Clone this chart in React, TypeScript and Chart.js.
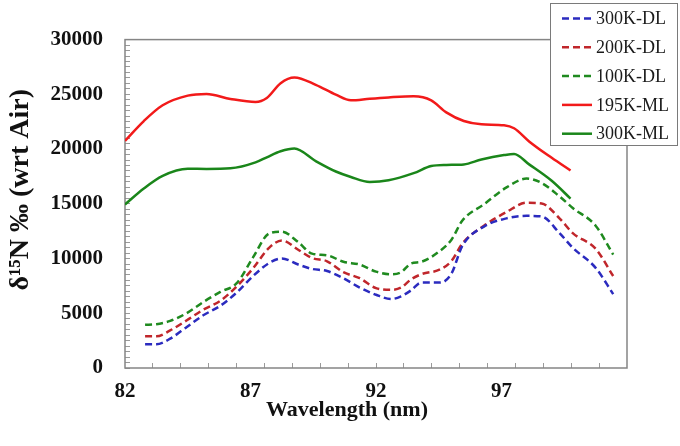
import React, { useEffect, useRef } from "react";
import { Chart, registerables } from "chart.js";

Chart.register(...registerables);

// ---- axis definitions ----
const X_MIN = 82;
const X_MAX = 102;
const X_TICKS = [82, 87, 92, 97];
const X_MINOR_INTERVALS = 18;
const Y_MIN = 0;
const Y_MAX = 30000;
const Y_LABEL_STEP = 5000;
const Y_MINOR_STEP = 500;

// ---- dashed (DL) series ----
const WAVELENGTH_DL = [
  82.8, 83.25, 83.8, 84.45, 85.1, 85.8, 86.45, 87.1, 87.75, 88.25, 88.9, 89.45,
  90.05, 90.7, 91.35, 92.0, 92.6, 93.0, 93.4, 93.8, 94.55, 95.0, 95.45, 96.3,
  97.2, 98.0, 98.6, 99.3, 99.85, 100.75, 101.45,
];
const DL_300K = [
  2170, 2170, 2680, 3730, 4790, 5690, 6890, 8400, 9600, 10000, 9450, 9050,
  8860, 8200, 7350, 6690, 6300, 6550, 7100, 7800, 7800, 8600, 11200, 12920,
  13670, 13900, 13850, 12350, 10960, 9150, 6750,
];
const DL_200K = [
  2890, 2890, 3430, 4340, 5300, 6140, 7450, 9100, 11000, 11650, 10800, 10050,
  9750, 8750, 8200, 7300, 7140, 7350, 8100, 8560, 9000, 9760, 11400, 13000,
  14250, 15100, 15030, 13700, 12300, 10900, 8400,
];
const DL_100K = [
  3950, 4000, 4300, 5000, 6000, 6950, 7750, 10100, 12300, 12450, 11500, 10450,
  10300, 9700, 9450, 8800, 8560, 8750, 9550, 9700, 10700, 11700, 13500, 14950,
  16500, 17300, 16900, 15700, 14600, 13000, 10360,
];

// ---- solid (ML) series ----
const WAVELENGTH_ML = [
  82, 82.75, 83.5, 84.5, 85.25, 86.2, 87.2, 87.65, 88.2, 88.75, 89.6, 90.4,
  91.0, 91.75, 92.5, 93.5, 94.2, 94.8, 95.5, 96.2, 97.1, 97.5, 98.1, 99.0, 99.75,
];
const ML_195K = [
  20750, 22560, 24000, 24880, 25030, 24580, 24300, 24670, 26020, 26540, 25870,
  24970, 24450, 24600, 24720, 24820, 24450, 23350, 22560, 22260, 22170, 21900,
  20700, 19200, 18040,
];
const ML_300K = [
  14940, 16400, 17550, 18200, 18190, 18240, 18780, 19250, 19800, 20050, 18900,
  17950, 17450, 17000, 17150, 17800, 18450, 18550, 18600, 19050, 19450, 19550,
  18600, 17100, 15480,
];

const SERIES_LABELS = ["300K-DL", "200K-DL", "100K-DL", "195K-ML", "300K-ML"];
const X_TITLE = "Wavelength (nm)";
const Y_TITLE = "\u2002\u2002δ¹⁵N ‰ (wrt Air)";

const SERIF = "'Liberation Serif', 'Times New Roman', serif";

const pts = (xs: number[], ys: number[]) => xs.map((x, i) => ({ x, y: ys[i] }));

const framePlugin = {
  id: "plotFrame",
  beforeDatasetsDraw(chart: any) {
    const { ctx, chartArea } = chart;
    const { left, top, right, bottom } = chartArea;
    ctx.save();
    ctx.strokeStyle = "#858585";
    ctx.lineWidth = 1.5;
    ctx.strokeRect(left, top, right - left, bottom - top);
    ctx.restore();
  },
};

const boxLegendPlugin = {
  id: "boxLegend",
  afterDraw(chart: any) {
    const ctx = chart.ctx;
    ctx.save();
    const bx = 550.5;
    const by = 3.5;
    const bw = 127;
    const bh = 142;
    ctx.fillStyle = "#ffffff";
    ctx.fillRect(bx, by, bw, bh);
    ctx.strokeStyle = "#7a7a7a";
    ctx.lineWidth = 1;
    ctx.strokeRect(bx, by, bw, bh);
    chart.data.datasets.forEach((ds: any, i: number) => {
      const y = 18.5 + i * 28.8;
      ctx.strokeStyle = ds.borderColor;
      ctx.lineWidth = ds.borderWidth;
      ctx.setLineDash(ds.borderDash || []);
      ctx.beginPath();
      ctx.moveTo(562, y);
      ctx.lineTo(592, y);
      ctx.stroke();
      ctx.setLineDash([]);
      ctx.fillStyle = "#1a1a1a";
      ctx.font = `18px ${SERIF}`;
      ctx.textBaseline = "middle";
      ctx.textAlign = "left";
      ctx.fillText(ds.label, 596, y + 1);
    });
    ctx.restore();
  },
};

export default function App() {
  const canvasRef = useRef<HTMLCanvasElement | null>(null);

  useEffect(() => {
    if (!canvasRef.current) return;
    const common = {
      fill: false,
      pointRadius: 0,
      pointHoverRadius: 0,
      borderWidth: 2.5,
      cubicInterpolationMode: "monotone" as const,
    };
    const chart = new Chart(canvasRef.current, {
      type: "line",
      data: {
        datasets: [
          { ...common, label: SERIES_LABELS[0], data: pts(WAVELENGTH_DL, DL_300K), borderColor: "#2b2bbf", borderDash: [7, 4] },
          { ...common, label: SERIES_LABELS[1], data: pts(WAVELENGTH_DL, DL_200K), borderColor: "#c0262b", borderDash: [7, 4] },
          { ...common, label: SERIES_LABELS[2], data: pts(WAVELENGTH_DL, DL_100K), borderColor: "#1f8a1f", borderDash: [7, 4] },
          { ...common, label: SERIES_LABELS[3], data: pts(WAVELENGTH_ML, ML_195K), borderColor: "#f21a1a" },
          { ...common, label: SERIES_LABELS[4], data: pts(WAVELENGTH_ML, ML_300K), borderColor: "#1a861a" },
        ],
      },
      options: {
        animation: false,
        responsive: true,
        maintainAspectRatio: false,
        layout: { padding: { top: 36, left: 14, right: 0, bottom: 25 } },
        plugins: {
          legend: { display: false },
          tooltip: { enabled: false },
          title: {
            display: true,
            position: "bottom",
            text: X_TITLE,
            color: "#111111",
            font: { family: SERIF, size: 22, weight: "bold", lineHeight: 1 },
            padding: { top: -3, bottom: 0 },
            fullSize: true,
          },
        },
        scales: {
          x: {
            type: "linear",
            position: "bottom",
            min: X_MIN,
            max: X_MAX,
            weight: 1,
            afterBuildTicks: (s: any) => {
              s.ticks = X_TICKS.map((v) => ({ value: v }));
            },
            afterFit: (s: any) => {
              s.height = 34;
            },
            grid: { display: false },
            border: { display: false },
            ticks: {
              padding: 3,
              color: "#111111",
              autoSkip: false,
              maxRotation: 0,
              font: { family: SERIF, size: 21, weight: "bold" },
              callback: (v: any) => String(v),
            },
          },
          xMinor: {
            type: "linear",
            position: "bottom",
            min: X_MIN,
            max: X_MAX,
            weight: 0,
            afterBuildTicks: (s: any) => {
              const step = (X_MAX - X_MIN) / X_MINOR_INTERVALS;
              const t = [];
              for (let k = 1; k < X_MINOR_INTERVALS; k++) t.push({ value: X_MIN + k * step });
              s.ticks = t;
            },
            afterFit: (s: any) => {
              s.height = 0;
            },
            grid: { drawOnChartArea: false, tickLength: -5, color: "#9a9a9a", lineWidth: 1 },
            border: { display: false },
            ticks: { display: false },
          },
          y: {
            type: "linear",
            position: "left",
            min: Y_MIN,
            max: Y_MAX,
            afterFit: (s: any) => {
              s.width = 111;
            },
            grid: { drawOnChartArea: false, tickLength: -5, color: "#9a9a9a", lineWidth: 1 },
            border: { display: false },
            ticks: {
              stepSize: Y_MINOR_STEP,
              autoSkip: false,
              padding: 27,
              color: "#111111",
              font: { family: SERIF, size: 21, weight: "bold" },
              callback: (v: any) => (Number(v) % Y_LABEL_STEP === 0 ? String(v) : ""),
            },
            title: {
              display: true,
              text: Y_TITLE,
              color: "#111111",
              font: { family: SERIF, size: 28, weight: "bold", lineHeight: 1 },
              padding: { top: -7, bottom: 0 },
            },
          },
          yr: {
            type: "linear",
            position: "right",
            min: 0,
            max: 1,
            afterFit: (s: any) => {
              s.width = 53;
            },
            grid: { display: false },
            border: { display: false },
            ticks: { display: false },
          },
        },
      } as any,
      plugins: [framePlugin, boxLegendPlugin],
    });
    return () => chart.destroy();
  }, []);

  return (
    <div style={{ position: "absolute", left: 0, top: 0, width: 680, height: 446, background: "#ffffff" }}>
      <canvas ref={canvasRef} />
    </div>
  );
}
